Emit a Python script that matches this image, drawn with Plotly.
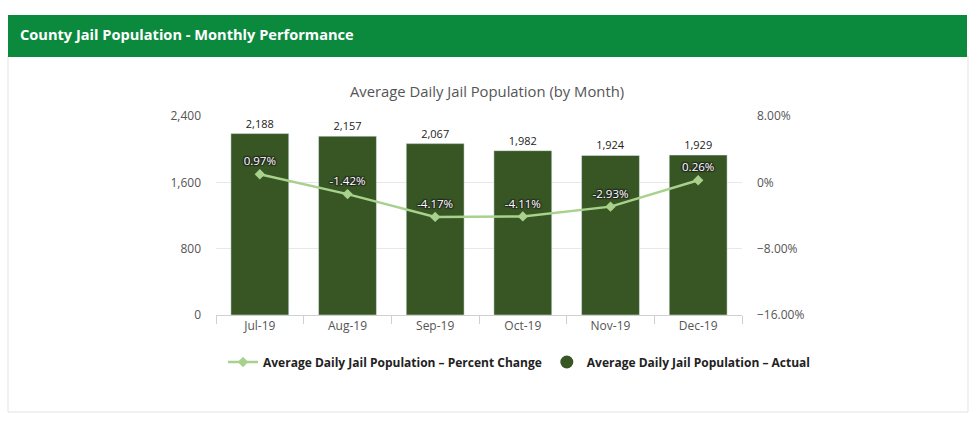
import plotly.graph_objects as go

months = ["Jul-19", "Aug-19", "Sep-19", "Oct-19", "Nov-19", "Dec-19"]
actual = [2188, 2157, 2067, 1982, 1924, 1929]
pct_change = [0.97, -1.42, -4.17, -4.11, -2.93, 0.26]

W, H = 980, 421
L, R, T, B = 216, 742, 116, 315

def px(x):
    return (x - L) / (R - L)

def py(y):
    return (B - y) / (B - T)

BAR_COLOR = "#375623"
LINE_COLOR = "#a9d18e"

fig = go.Figure()
fig.add_trace(go.Bar(
    x=months, y=actual, name="Average Daily Jail Population – Actual",
    marker=dict(color=BAR_COLOR), width=0.66, showlegend=False,
    text=[f"{v:,}" for v in actual], textposition="outside",
    textfont=dict(size=11, color="#222", family="Open Sans"),
    cliponaxis=False, yaxis="y",
))
fig.add_trace(go.Scatter(
    x=months, y=pct_change, name="Average Daily Jail Population – Percent Change",
    mode="lines+markers+text", yaxis="y2",
    line=dict(color=LINE_COLOR, width=2.5),
    marker=dict(symbol="diamond", size=8, color=LINE_COLOR),
    text=[f"{v:.2f}%" for v in pct_change], textposition="top center",
    textfont=dict(size=11.5, color="white", family="Open Sans",
                  shadow="1px 1px 1px #222, -1px -1px 1px #222, 1px -1px 1px #222, -1px 1px 1px #222"),
))
# legend entry for the bars (circle symbol as in the reference)
fig.add_trace(go.Scatter(
    x=[None], y=[None], name="Average Daily Jail Population – Actual",
    mode="markers", marker=dict(symbol="circle", size=13, color=BAR_COLOR),
    yaxis="y", hoverinfo="skip",
))

shapes = [
    dict(type="rect", xref="paper", yref="paper",
         x0=px(8), x1=px(968), y0=py(412), y1=py(56),
         line=dict(color="#e3e3e3", width=1), fillcolor="rgba(0,0,0,0)", layer="below"),
    dict(type="rect", xref="paper", yref="paper",
         x0=px(8), x1=px(967), y0=py(57), y1=py(15),
         line=dict(width=0), fillcolor="#0b8a3e", layer="below"),
]

fig.update_layout(
    width=W, height=H,
    margin=dict(l=L, r=W - R, t=T, b=H - B, pad=0),
    paper_bgcolor="white", plot_bgcolor="white",
    font=dict(family="Open Sans", color="#555"),
    shapes=shapes,
    showlegend=True,
    legend=dict(orientation="h",
                x=px(815), xanchor="right", y=py(362), yanchor="middle",
                font=dict(size=12, color="#222", family="Open Sans", weight="bold"),
                itemwidth=30, tracegroupgap=0),
    bargap=0.34,
    xaxis=dict(showline=True, linecolor="#d0d0d0", ticks="outside", tickson="boundaries",
               tickcolor="#d0d0d0", ticklen=8, tickfont=dict(size=12, color="#555"),
               showgrid=False),
    yaxis=dict(range=[0, 2400], tickvals=[0, 800, 1600, 2400],
               ticktext=["0", "800", "1,600", "2,400"],
               gridcolor="#e8e8e8", zeroline=False, tickfont=dict(size=12, color="#555"),
               ticks="", ticklabelstandoff=14),
    yaxis2=dict(range=[-16, 8], tickvals=[-16, -8, 0, 8],
                ticktext=["\u221216.00%", "\u22128.00%", "0%", "8.00%"],
                overlaying="y", side="right", showgrid=False, zeroline=False,
                tickfont=dict(size=12, color="#555"), ticklabelstandoff=14),
    annotations=[
        dict(text="<b>County Jail Population - Monthly Performance</b>", xref="paper", yref="paper",
             x=px(18), y=py(34), xanchor="left", yanchor="middle", showarrow=False,
             font=dict(size=14.6, color="white", family="Open Sans")),
        dict(text="Average Daily Jail Population (by Month)", xref="paper", yref="paper",
             x=px(487), y=py(91), xanchor="center", yanchor="middle", showarrow=False,
             font=dict(size=14.8, color="#555", family="Open Sans")),
    ],
)

fig.write_html("out.html")
